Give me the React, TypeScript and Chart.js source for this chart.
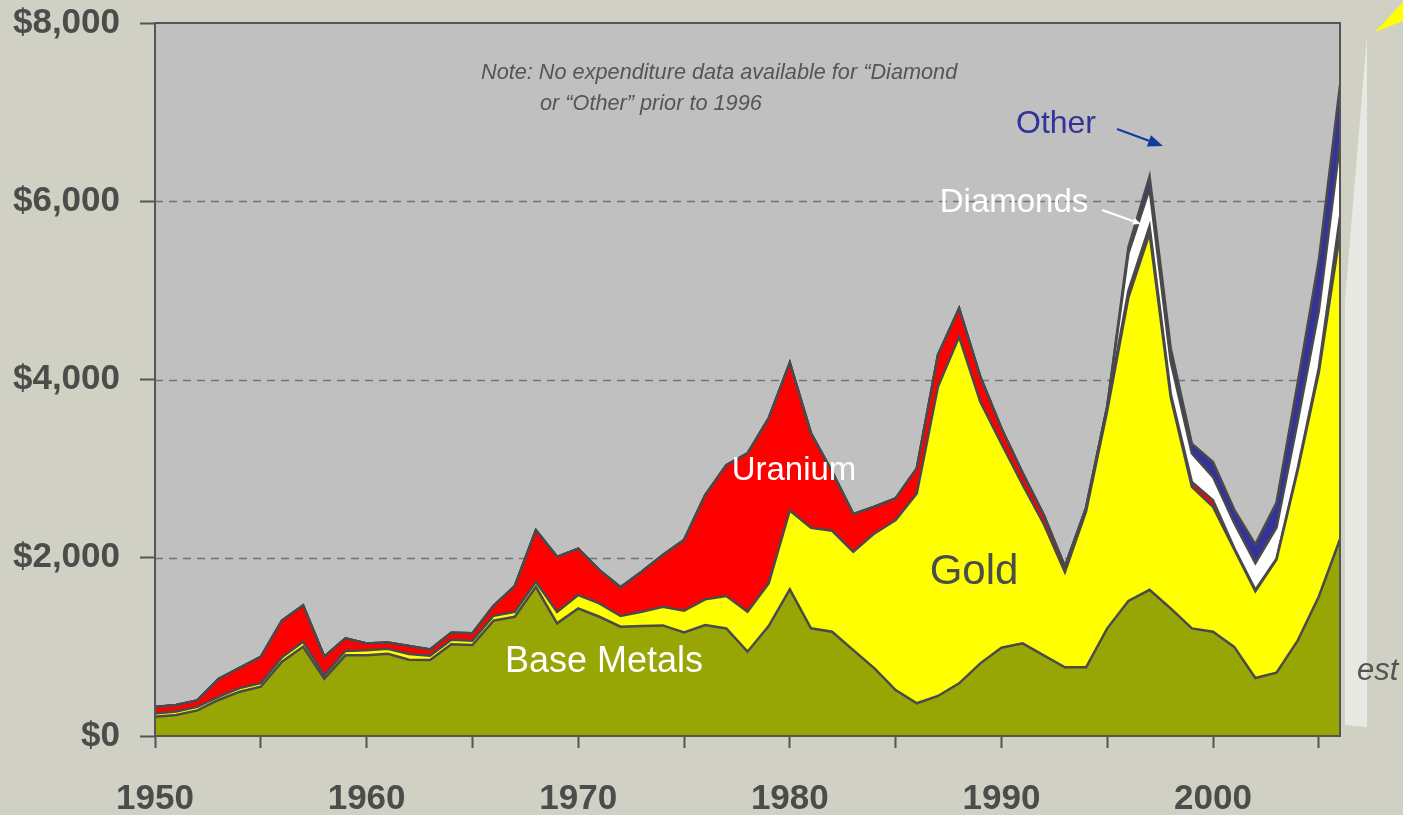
import React, { useEffect, useRef } from 'react';
import { Chart, registerables } from 'chart.js';

Chart.register(...registerables);

const years = [
  1950, 1951, 1952, 1953, 1954, 1955, 1956, 1957, 1958, 1959,
  1960, 1961, 1962, 1963, 1964, 1965, 1966, 1967, 1968, 1969,
  1970, 1971, 1972, 1973, 1974, 1975, 1976, 1977, 1978, 1979,
  1980, 1981, 1982, 1983, 1984, 1985, 1986, 1987, 1988, 1989,
  1990, 1991, 1992, 1993, 1994, 1995, 1996, 1997, 1998, 1999,
  2000, 2001, 2002, 2003, 2004, 2005, 2006,
];

const baseMetals = [
  216, 235, 287, 404, 497, 553, 833, 1001, 643, 905,
  905, 923, 856, 852, 1030, 1020, 1295, 1338, 1674, 1264,
  1432, 1338, 1226, 1234, 1241, 1163, 1245, 1207, 946, 1234,
  1645, 1208, 1170, 964, 759, 516, 367, 449, 591, 815,
  990, 1040, 905, 770, 770, 1208, 1516, 1640, 1431, 1207,
  1170, 1000, 650, 710, 1070, 1565, 2207,
];

const gold = [
  35, 40, 40, 35, 40, 40, 50, 56, 40, 50,
  58, 55, 65, 50, 50, 50, 55, 55, 56, 129,
  150, 150, 120, 160, 209, 243, 288, 363, 448, 479,
  885, 1128, 1133, 1103, 1514, 1907, 2355, 3469, 3888, 2935,
  2290, 1780, 1475, 1070, 1750, 2440, 3404, 4000, 2370, 1588,
  1400, 1095, 975, 1270, 1910, 2515, 3433,
];

const uranium = [
  75, 73, 72, 200, 228, 296, 413, 408, 206, 140,
  75, 70, 90, 68, 78, 83, 110, 289, 579, 617,
  520, 373, 322, 449, 580, 792, 1170, 1469, 1777, 1850,
  1657, 1059, 662, 423, 299, 243, 281, 356, 318, 280,
  170, 130, 100, 60, 40, 50, 75, 80, 40, 55,
  75, 15, 15, 10, 20, 50, 190,
];

const diamonds = [
  0, 0, 0, 0, 0, 0, 0, 0, 0, 0,
  0, 0, 0, 0, 0, 0, 0, 0, 0, 0,
  0, 0, 0, 0, 0, 0, 0, 0, 0, 0,
  0, 0, 0, 0, 0, 0, 0, 0, 0, 0,
  0, 0, 0, 0, 0, 0, 420, 420, 360, 320,
  260, 280, 300, 350, 530, 640, 820,
];

const other = [
  0, 0, 0, 0, 0, 0, 0, 0, 0, 0,
  0, 0, 0, 0, 0, 0, 0, 0, 0, 0,
  0, 0, 0, 0, 0, 0, 0, 0, 0, 0,
  0, 0, 0, 0, 0, 0, 0, 0, 0, 0,
  0, 0, 0, 0, 0, 0, 70, 140, 150, 110,
  170, 150, 210, 280, 430, 570, 650,
];

const gridValues = [2000, 4000, 6000];

const PAGE_BG = '#D0D0C4';
const PLOT_BG = '#C0C0C0';
const LINE = '#4a4a4a';
const TEXT = '#4a4e4a';
const AXIS_FONT = "'Liberation Sans', Arial, sans-serif";
const FONT = "'Liberation Sans', Arial, sans-serif";

function arrow(ctx: CanvasRenderingContext2D, x1: number, y1: number, x2: number, y2: number, color: string, w: number, hl: number, hw: number) {
  const a = Math.atan2(y2 - y1, x2 - x1);
  const bx = x2 - hl * Math.cos(a);
  const by = y2 - hl * Math.sin(a);
  ctx.save();
  ctx.strokeStyle = color;
  ctx.fillStyle = color;
  ctx.lineWidth = w;
  ctx.beginPath();
  ctx.moveTo(x1, y1);
  ctx.lineTo(bx, by);
  ctx.stroke();
  ctx.beginPath();
  ctx.moveTo(x2, y2);
  ctx.lineTo(bx + (hw / 2) * Math.sin(a), by - (hw / 2) * Math.cos(a));
  ctx.lineTo(bx - (hw / 2) * Math.sin(a), by + (hw / 2) * Math.cos(a));
  ctx.closePath();
  ctx.fill();
  ctx.restore();
}

const decor = {
  id: 'decor',
  beforeDraw(chart: any) {
    const { ctx, chartArea: a } = chart;
    ctx.save();
    ctx.fillStyle = PAGE_BG;
    ctx.fillRect(0, 0, chart.width, chart.height);
    // light wedge on the right
    ctx.fillStyle = '#E9E9E3';
    ctx.beginPath();
    ctx.moveTo(1367, 35);
    ctx.lineTo(1367, 727);
    ctx.lineTo(1345, 725);
    ctx.lineTo(1345, 300);
    ctx.closePath();
    ctx.fill();
    // yellow beam at top right
    ctx.fillStyle = '#FFFF00';
    ctx.beginPath();
    ctx.moveTo(1375, 32);
    ctx.lineTo(1403, 2);
    ctx.lineTo(1403, 21);
    ctx.closePath();
    ctx.fill();
    ctx.fillStyle = PLOT_BG;
    ctx.fillRect(a.left, a.top, a.right - a.left, a.bottom - a.top);
    ctx.restore();
  },
  beforeDatasetsDraw(chart: any) {
    const { ctx, chartArea: a } = chart;
    const y = chart.scales.y;
    ctx.save();
    ctx.strokeStyle = '#747474';
    ctx.lineWidth = 1.5;
    ctx.setLineDash([8, 6]);
    gridValues.forEach((v) => {
      const py = Math.round(y.getPixelForValue(v)) + 0.5;
      ctx.beginPath();
      ctx.moveTo(a.left, py);
      ctx.lineTo(a.right, py);
      ctx.stroke();
    });
    ctx.restore();
  },
  afterDatasetsDraw(chart: any) {
    const { ctx, chartArea: a } = chart;
    ctx.save();
    ctx.strokeStyle = '#555555';
    ctx.lineWidth = 2;
    ctx.strokeRect(a.left, a.top, a.right - a.left, a.bottom - a.top);

    ctx.textBaseline = 'alphabetic';
    ctx.textAlign = 'center';
    ctx.fillStyle = '#FFFFFF';
    ctx.font = `33px ${FONT}`;
    ctx.fillText('Uranium', 794, 480);
    ctx.font = `36px ${FONT}`;
    ctx.fillText('Base Metals', 604, 672);
    ctx.font = `33px ${FONT}`;
    ctx.fillText('Diamonds', 1014, 212);
    ctx.fillStyle = TEXT;
    ctx.font = `42px ${FONT}`;
    ctx.fillText('Gold', 974, 584);
    ctx.fillStyle = '#333399';
    ctx.font = `32px ${FONT}`;
    ctx.fillText('Other', 1056, 133);

    ctx.textAlign = 'left';
    ctx.fillStyle = '#555555';
    ctx.font = `italic 21.7px ${FONT}`;
    ctx.fillText('Note: No expenditure data available for \u201CDiamond', 481, 79);
    ctx.fillText('or \u201COther\u201D prior to 1996', 540, 110);
    ctx.font = `italic 31px ${FONT}`;
    ctx.fillText('est', 1357, 680);

    arrow(ctx, 1117, 129, 1163, 146, '#123c9c', 2, 15, 12);
    arrow(ctx, 1102, 210, 1141, 224, '#FFFFFF', 2, 8, 7);
    ctx.restore();
  },
};

export default function App() {
  const ref = useRef<HTMLCanvasElement>(null);

  useEffect(() => {
    if (!ref.current) return;
    const pts = (arr: number[]) => years.map((yr, i) => ({ x: yr, y: arr[i] }));
    const ds = (label: string, arr: number[], color: string, fill: any) => ({
      label,
      data: pts(arr),
      backgroundColor: color,
      borderColor: LINE,
      borderWidth: 2.5,
      borderJoinStyle: 'miter' as const,
      fill,
      pointRadius: 0,
      pointHoverRadius: 0,
      tension: 0,
    });
    const chart = new Chart(ref.current, {
      type: 'line',
      data: {
        datasets: [
          ds('Base Metals', baseMetals, '#98A605', 'origin'),
          ds('Gold', gold, '#FFFF00', '-1'),
          ds('Uranium', uranium, '#FF0000', '-1'),
          ds('Diamonds', diamonds, '#FFFFFF', '-1'),
          ds('Other', other, '#333399', '-1'),
        ],
      },
      options: {
        responsive: false,
        animation: false,
        devicePixelRatio: 1,
        layout: { padding: { top: 23, right: 63, left: 0, bottom: 0 } },
        plugins: { legend: { display: false }, tooltip: { enabled: false } },
        events: [],
        scales: {
          x: {
            type: 'linear',
            min: 1950,
            max: 2006,
            afterFit: (s: any) => { s.height = 79; s.paddingLeft = 0; s.paddingRight = 0; },
            grid: { drawOnChartArea: false, drawTicks: true, tickLength: 12, tickColor: '#555555', tickWidth: 2 },
            border: { display: false },
            ticks: {
              stepSize: 5,
              includeBounds: false,
              autoSkip: false,
              maxRotation: 0,
              padding: 30,
              color: TEXT,
              font: { family: AXIS_FONT, size: 35, weight: 'bold' },
              callback: (v: any) => (Number(v) % 10 === 0 ? String(v) : ''),
            },
          },
          y: {
            stacked: true,
            min: 0,
            max: 8000,
            afterFit: (s: any) => { s.width = 155; s.paddingTop = 0; s.paddingBottom = 0; },
            grid: { drawOnChartArea: false, drawTicks: true, tickLength: 15, tickColor: '#555555', tickWidth: 2 },
            border: { display: false },
            ticks: {
              stepSize: 2000,
              padding: 20,
              color: TEXT,
              font: { family: AXIS_FONT, size: 35, weight: 'bold' },
              callback: (v: any) => '$' + Number(v).toLocaleString('en-US'),
            },
          },
        },
      } as any,
      plugins: [decor],
    });
    return () => chart.destroy();
  }, []);

  return (
    <div style={{ position: 'absolute', left: 0, top: 0, width: 1403, height: 815, background: PAGE_BG }}>
      <canvas ref={ref} width={1403} height={815} style={{ display: 'block' }} />
    </div>
  );
}
